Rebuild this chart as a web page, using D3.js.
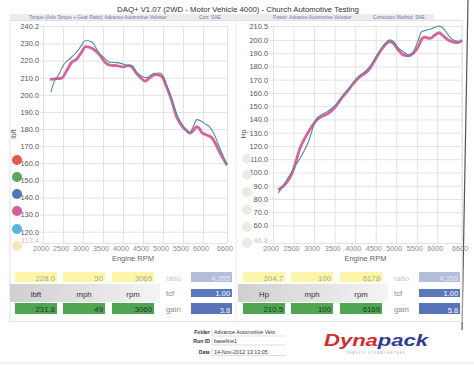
<!DOCTYPE html>
<html><head><meta charset="utf-8">
<script src="https://cdn.jsdelivr.net/npm/d3@7"></script>
<style>
html,body{margin:0;padding:0;background:#fff;}
svg{display:block;font-family:"Liberation Sans",Arial,sans-serif;}
</style></head>
<body>
<svg id="c" width="474" height="366"></svg>
<script>
// ---------- DATA ----------
const rpmTicks = [2000,2500,3000,3500,4000,4500,5000,5500,6000,6600];
const torqueTicks = [240.2,230,220,210,200,190,180,170,160,150,140,130,120,113.4];
const powerTicks = [210.5,200,190,180,170,160,150,140,130,120,110,100,90,80,70,60,46.8];

// Torque run A (pink, thick) — lbft
const torqueRpmA = [2175,2300,2467,2592,2717,2842,2967,3050,3075,3175,3300,3425,3550,3675,3842,4008,4133,4217,4342,4467,4550,4675,4800,4925,5008,5092,5217,5342,5467,5592,5675,5758,5842,5900,5967,6092,6217,6300,6383,6600];
const torqueA    = [209,209.3,209.8,214,219,220.8,225,228,228.2,227.6,226,223,219,217.3,217,216.3,217,216.3,212.4,209.4,208,210,211.8,211.4,209.4,204.5,196.7,187,182,179,177.6,179,181.4,180.6,178,176.5,175,172,168,159];
// Torque run B (teal, thin)
const torqueRpmB = [2200,2258,2383,2508,2675,2842,2967,3050,3133,3258,3383,3508,3675,3842,3967,4092,4217,4342,4467,4592,4758,4925,5008,5092,5217,5342,5467,5592,5675,5758,5842,5925,6050,6175,6300,6383,6600];
const torqueB    = [201.6,206.5,211.4,217.3,221.2,225,229,231.6,231.6,230,225,222,219,218.8,218.2,217.3,217.3,213.3,210.8,210,212.4,212.7,210.8,205.5,197.6,188.8,183,179,178,181.4,185.5,185,183,181,176,171,159];

// Power run A (pink, thick) — Hp
const powerRpmA = [2129,2494,2657,2819,2941,3063,3184,3346,3509,3671,3833,3995,4117,4238,4360,4482,4603,4725,4847,4928,5049,5171,5292,5414,5536,5617,5698,5820,5942,6039,6144,6265,6387,6509,6600];
const powerA    = [86.8,101.9,118.2,128.3,134.5,139.6,142.1,144.6,149.2,156.0,162.2,168.5,172.3,174.8,178.6,184.9,191.1,196.2,198.7,197.5,192.4,188.6,187.9,189.9,194.9,200.5,202.0,201.2,203.7,205.4,203.0,199.9,198.4,197.9,199.9];
// Power run B (teal, thin)
const powerRpmB = [2129,2494,2859,3063,3184,3346,3509,3671,3833,3995,4117,4238,4360,4482,4603,4725,4847,4928,5049,5171,5292,5414,5536,5617,5698,5820,5942,6039,6144,6265,6387,6509,6600];
const powerB    = [84.5,102.5,123,140.9,143.5,146.5,150.5,157,163,169.5,173.5,176,180,185.5,192,197,200,198.8,194,191.1,188.6,191,199.9,206.2,207,208,209.5,210.5,208.8,203.7,199.9,198.9,198.7];

const legendColors = ["#e2584b","#5aa95a","#4c79b2","#d95c98","#5cb3e2","#fbe4bd"];

// readouts
const leftYellow  = ["228.0","50","3069"];
const leftGreen   = ["231.8","49","3060"];
const leftUnits   = ["lbft","mph","rpm"];
const rightYellow = ["204.7","100","6178"];
const rightGreen  = ["210.5","100","6169"];
const rightUnits  = ["Hp","mph","rpm"];
const sideLabels  = ["ratio","tcf","gain"];
const leftSide    = ["4.355","1.00","3.8"];
const rightSide   = ["4.355","1.00","5.8"];

const footerLabels = ["Folder","Run ID","Date"];
const footerValues = ["Advance Automotive Velo","baseline1","14-Nov-2012 13:13:05"];

// ---------- DRAW ----------
const svg = d3.select("#c");

// page edge shadow
svg.append("line").attr("x1",468).attr("y1",0).attr("x2",462).attr("y2",330)
  .attr("stroke","#555").attr("stroke-width",1.2);

// title
svg.append("text").attr("x",238).attr("y",12).attr("text-anchor","middle")
  .attr("font-size",7.8).attr("fill","#333")
  .text("DAQ+ V1.07 (2WD - Motor Vehicle 4000) - Church Automotive Testing");
svg.append("rect").attr("x",10).attr("y",14).attr("width",424).attr("height",6.5).attr("fill","#ececec");
const sub = [
  {x:29,t:"Torque (Axle Torque + Gear Ratio): Advance Automotive Veloster"},
  {x:199,t:"Corr: SAE"},
  {x:273,t:"Power: Advance Automotive Veloster"},
  {x:373,t:"Correction Method: SAE"}];
svg.selectAll("text.sub").data(sub).join("text").attr("class","sub")
  .attr("x",d=>d.x).attr("y",19.3).attr("font-size",4.8).attr("fill","#6a78a8").text(d=>d.t);

// outer frame
svg.append("rect").attr("x",10).attr("y",20.5).attr("width",452).attr("height",301)
  .attr("fill","none").attr("stroke","#e2e2e2");
svg.append("line").attr("x1",236).attr("x2",236).attr("y1",20.5).attr("y2",321.5).attr("stroke","#ececec");

function chart(o){
  const x = d3.scaleLinear().domain([2000,6600]).range([o.x0,o.x1]);
  const y = d3.scaleLinear().domain(o.ydom).range([243,26]);
  const g = svg.append("g");
  // horizontal grid + labels
  const ya = d3.axisLeft(y).tickValues(o.yticks).tickSize(-(o.x1-o.gx)).tickPadding(1)
    .tickFormat(d3.format(".1f"));
  const yg = g.append("g").attr("transform",`translate(${o.gx},0)`).call(ya);
  yg.select(".domain").remove();
  yg.selectAll("line").attr("stroke","#e3e3e3");
  yg.selectAll("text").attr("font-size",7.4).attr("fill","#555")
    .attr("font-family","'Liberation Sans',Arial,sans-serif");
  yg.selectAll("text").filter((d,i)=>i===o.yticks.length-1).attr("fill","#c4c4c4").attr("dy","-0.1em");
  // vertical grid + labels
  const xa = d3.axisBottom(x).tickValues(rpmTicks).tickSize(-(243-26)).tickPadding(3).tickFormat(d3.format("d"));
  const xg = g.append("g").attr("transform","translate(0,243)").call(xa);
  xg.select(".domain").remove();
  xg.selectAll("line").attr("stroke","#e3e3e3");
  xg.selectAll("text").attr("font-size",7.2).attr("fill","#8a8a8a").attr("dx",-2.5)
    .attr("font-family","'Liberation Sans',Arial,sans-serif");
  // axis titles
  g.append("text").attr("x",(o.x0+o.x1)/2-2).attr("y",261).attr("text-anchor","middle")
    .attr("font-size",7.5).attr("fill","#666").text("Engine RPM");
  g.append("text").attr("transform",`translate(${o.ylx},134) rotate(-90)`).attr("text-anchor","middle")
    .attr("font-size",7.2).attr("fill","#555").text(o.ylab);
  // legend circles
  g.selectAll("circle").data(o.circles).join("circle")
    .attr("cx",o.cx).attr("cy",(d,i)=>o.cy[i]).attr("r",5).attr("fill",d=>d);
  // curves
  const line = d3.line().x(d=>x(d[0])).y(d=>y(d[1])).curve(d3.curveMonotoneX);
  g.append("path").datum(d3.zip(o.rA,o.vA)).attr("d",line).attr("fill","none")
    .attr("stroke","#d4639e").attr("stroke-width",2.8).attr("stroke-linejoin","round");
  g.append("path").datum(d3.zip(o.rB,o.vB)).attr("d",line).attr("fill","none")
    .attr("stroke","#4f8d97").attr("stroke-width",1.1);
}

chart({x0:43,x1:227,gx:40,ydom:[113.4,240.2],yticks:torqueTicks,ylab:"lbft",ylx:16,
  circles:legendColors,cx:17,cy:[160,177,194,211,229,246],
  rA:torqueRpmA,vA:torqueA,rB:torqueRpmB,vB:torqueB});
chart({x0:273,x1:462,gx:269,ydom:[46.8,210.5],yticks:powerTicks,ylab:"Hp",ylx:246,
  circles:legendColors.map(()=>"#ebebe6"),cx:247,cy:[159,175,192,210,227,243],
  rA:powerRpmA,vA:powerA,rB:powerRpmB,vB:powerB});

// readout panels
const defs = svg.append("defs");
const gr = defs.append("linearGradient").attr("id","band").attr("x1",0).attr("y1",0).attr("x2",1).attr("y2",0);
gr.append("stop").attr("offset","0%").attr("stop-color","#cfcfcf");
gr.append("stop").attr("offset","100%").attr("stop-color","#f4f4f4");

function readout(px, yellow, green, units, side){
  const g = svg.append("g");
  g.append("rect").attr("x",px-5).attr("y",284).attr("width",150).attr("height",18).attr("fill","url(#band)");
  const cols = [0,48,97];
  cols.forEach((cx,i)=>{
    g.append("rect").attr("x",px+cx).attr("y",272).attr("width",42).attr("height",10).attr("fill","#fdf6a8");
    g.append("text").attr("x",px+cx+40).attr("y",280.5).attr("text-anchor","end").attr("font-size",7.8)
      .attr("fill","#a8a8a0").text(yellow[i]);
    g.append("text").attr("x",px+cx+21).attr("y",296.5).attr("text-anchor","middle").attr("font-size",7.8)
      .attr("fill","#333").text(units[i]);
    g.append("rect").attr("x",px+cx).attr("y",303).attr("width",42).attr("height",11).attr("fill","#4fa552");
    g.append("text").attr("x",px+cx+40).attr("y",311.8).attr("text-anchor","end").attr("font-size",7.8)
      .attr("fill","#1e3a1e").text(green[i]);
  });
  const sy = [[272,10,"#b4bedb"],[289,8,"#5a78bc"],[303,11,"#5674b6"]];
  const ly = [281,296,312];
  sy.forEach((s,i)=>{
    g.append("text").attr("x",px+151).attr("y",ly[i]).attr("font-size",7.8)
      .attr("fill",i===0?"#c8c8c8":"#8a8a8a").text(sideLabels[i]);
    g.append("rect").attr("x",px+176).attr("y",s[0]).attr("width",41).attr("height",s[1]).attr("fill",s[2]);
    g.append("text").attr("x",px+215).attr("y",s[0]+s[1]-1.5).attr("text-anchor","end").attr("font-size",7.4)
      .attr("fill",i===0?"#e6eaf4":"#fff").text(side[i]);
  });
}
readout(15,leftYellow,leftGreen,leftUnits,leftSide);
readout(243,rightYellow,rightGreen,rightUnits,rightSide);

// footer
const fy = [334,343,353.5];
footerLabels.forEach((l,i)=>{
  svg.append("text").attr("x",210).attr("y",fy[i]).attr("text-anchor","end").attr("font-size",5.2)
    .attr("font-weight","bold").attr("fill","#333").text(l);
  svg.append("text").attr("x",214).attr("y",fy[i]).attr("font-size",5.4).attr("fill","#333").text(footerValues[i]);
  svg.append("line").attr("x1",212).attr("x2",286).attr("y1",fy[i]+2).attr("y2",fy[i]+2).attr("stroke","#cfcfcf").attr("stroke-width",0.7);
  svg.append("line").attr("x1",212).attr("x2",212).attr("y1",fy[i]-6).attr("y2",fy[i]+2).attr("stroke","#cfcfcf").attr("stroke-width",0.7);
});
const logo = svg.append("text").attr("x",324).attr("y",346).attr("font-size",16)
  .attr("font-style","italic").attr("font-weight","bold").attr("textLength",104).attr("lengthAdjust","spacingAndGlyphs");
logo.append("tspan").attr("fill","#d02d2d").text("Dyna");
logo.append("tspan").attr("fill","#2e3d92").text("pack");
svg.append("text").attr("x",376).attr("y",353.5).attr("text-anchor","middle").attr("font-size",3)
  .attr("fill","#aaa").attr("letter-spacing",1).text("CHASSIS DYNAMOMETERS");
svg.append("line").attr("x1",0).attr("x2",474).attr("y1",363).attr("y2",363).attr("stroke","#e6e6e6");
</script>
</body></html>
